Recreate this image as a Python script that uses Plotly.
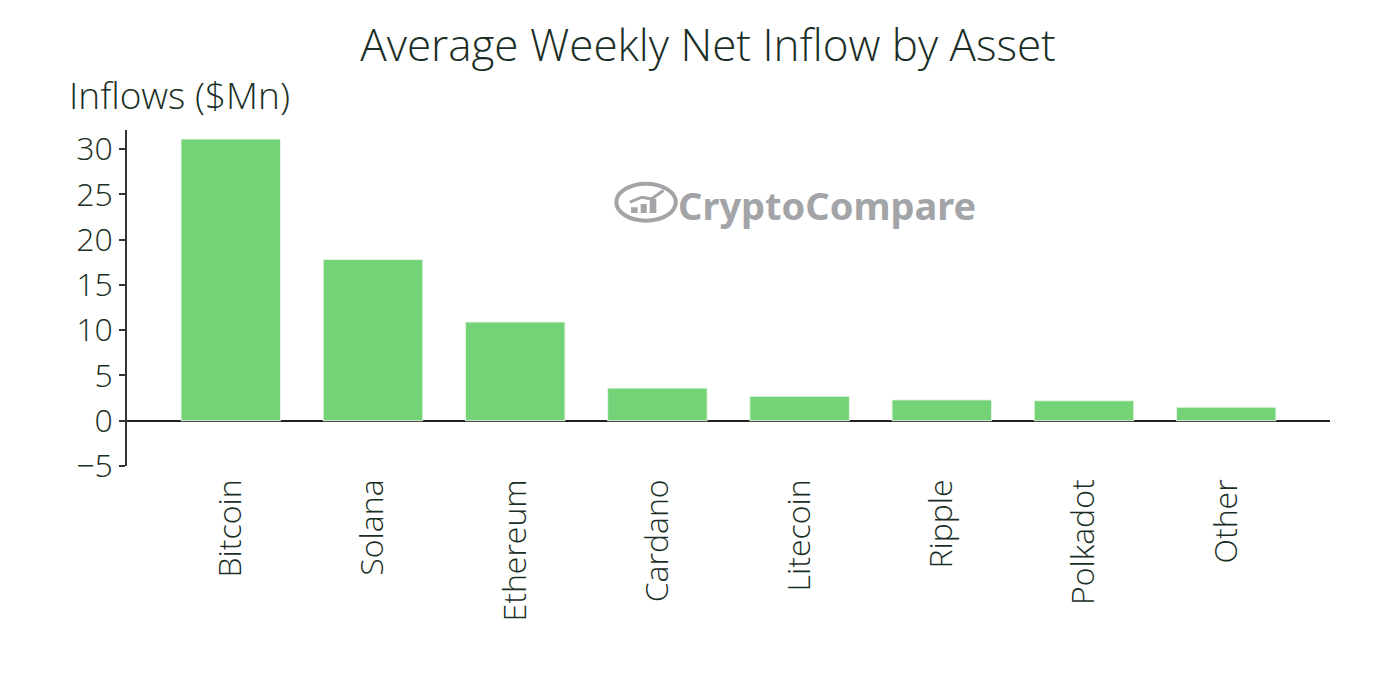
import plotly.graph_objects as go

# --- chart data ---
assets = ["Bitcoin", "Solana", "Ethereum", "Cardano", "Litecoin", "Ripple", "Polkadot", "Other"]
inflows = [31.1, 17.8, 10.9, 3.6, 2.7, 2.3, 2.2, 1.5]
y_ticks = [-5, 0, 5, 10, 15, 20, 25, 30]

TEXT = "#1a2e26"
FONT = "Open Sans"
BAR = "#74d376"
MARK = "#a2a4a8"

fig = go.Figure()

fig.add_trace(go.Bar(
    x=assets, y=inflows,
    marker=dict(color=BAR, line=dict(color="#e6f7e6", width=1)),
    width=0.7,
    showlegend=False,
))

# page body adds an 8px offset, so margins are shifted to compensate
fig.update_layout(
    width=1374, height=682,
    margin=dict(l=119, r=52, t=122, b=224),
    plot_bgcolor="white", paper_bgcolor="white",
    font=dict(family=FONT, color=TEXT, size=29),
    title=dict(
        text="Average Weekly Net Inflow by Asset",
        x=0.5095, xanchor="center", y=0.945, yanchor="middle",
        font=dict(family=FONT, size=44, color=TEXT, weight=300),
    ),
)

fig.update_xaxes(
    range=[-0.73, 7.73],
    tickangle=-90,
    showline=False, ticks="",
    ticklabelstandoff=6,
    tickfont=dict(family=FONT, size=32, color=TEXT, weight=300),
    showgrid=False,
    automargin=False,
)
fig.update_yaxes(
    range=[-5, 32.1],
    tickvals=y_ticks,
    ticktext=["\u22125" if v < 0 else str(v) for v in y_ticks],
    showline=True, linecolor="#333333", linewidth=1.5,
    ticks="outside", ticklen=6, tickcolor="#333333", tickwidth=1.5,
    tickfont=dict(family=FONT, size=32, color=TEXT, weight=300),
    showgrid=False,
    zeroline=True, zerolinecolor="#222222", zerolinewidth=1.5,
    automargin=False,
)

# y axis label sits horizontally above the axis
fig.add_annotation(
    text="Inflows ($Mn)", xref="paper", yref="paper",
    x=-0.0495, y=1.0, xanchor="left", yanchor="bottom", yshift=8,
    showarrow=False,
    font=dict(family=FONT, size=37, color=TEXT, weight=300),
)

# CryptoCompare watermark
fig.add_annotation(
    text="<b>CryptoCompare</b>", xref="paper", yref="paper",
    x=0.4565, y=0.778, xanchor="left", yanchor="middle",
    showarrow=False,
    font=dict(family="Noto Sans", size=38, color=MARK),
)
fig.add_shape(
    type="circle", xref="paper", yref="paper",
    x0=0.4067, x1=0.4562, y0=0.73, y1=0.84,
    line=dict(color=MARK, width=4),
)
for x0, x1, top in [(0.419, 0.4245, 0.77), (0.427, 0.432, 0.78), (0.4345, 0.44, 0.795)]:
    fig.add_shape(
        type="rect", xref="paper", yref="paper",
        x0=x0, x1=x1, y0=0.753, y1=top,
        line=dict(width=0), fillcolor=MARK,
    )
fig.add_shape(
    type="path", xref="paper", yref="paper",
    path="M 0.418 0.785 L 0.428 0.80 L 0.436 0.795 L 0.446 0.82",
    line=dict(color=MARK, width=3),
)

fig.write_html("out.html")
